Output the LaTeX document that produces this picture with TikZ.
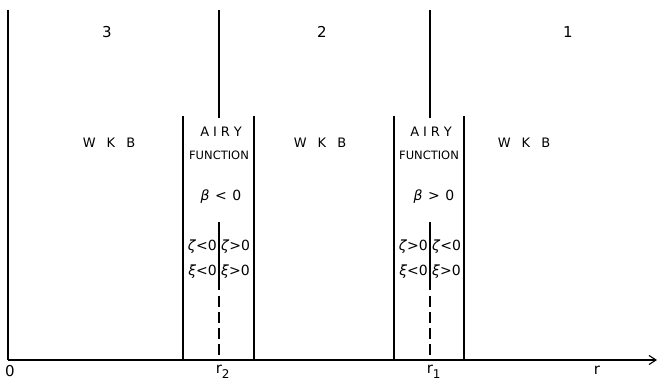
\documentclass[tikz,border=0pt]{standalone}
\usepackage{fontspec}
\setmainfont{DejaVu Sans}
\usetikzlibrary{arrows.meta}
\begin{document}
\begin{tikzpicture}[x=1pt,y=-1pt,
  ln/.style={line width=1.1pt,black},
  dsh/.style={line width=1.1pt,black,dash pattern=on 11pt off 5pt},
  big/.style={font=\fontsize{15}{15}\selectfont,inner sep=0pt},
  wkb/.style={font=\fontsize{13}{13}\selectfont,inner sep=0pt},
  airy/.style={font=\fontsize{13}{13}\selectfont,inner sep=0pt},
  func/.style={font=\fontsize{11.5}{11.5}\selectfont,inner sep=0pt},
  gr/.style={font=\fontsize{14}{14}\selectfont,inner sep=0pt},
  lab/.style={font=\fontsize{15}{15}\selectfont,inner sep=0pt},
  sub/.style={font=\fontsize{12}{12}\selectfont,inner sep=0pt}]
\useasboundingbox (0,0) rectangle (658,382);
% axis
\coordinate (o) at (8,360);
\coordinate (end) at (657,360);
\draw[ln,-{Straight Barb[length=7pt,width=9pt]}] (o) -- (end);
% main vertical lines
\draw[ln] (8,10) -- (o);
\draw[ln] (219,10) -- (219,118);
\draw[ln] (219,222) -- (219,290);
\draw[dsh] (219,296) -- (219,360);
\draw[ln] (430,10) -- (430,118);
\draw[ln] (430,222) -- (430,290);
\draw[dsh] (430,296) -- (430,360);
% box lines
\draw[ln] (183,116) -- (183,360);
\draw[ln] (254,116) -- (254,360);
\draw[ln] (394,116) -- (394,360);
\draw[ln] (464,116) -- (464,360);
% region numbers
\node[big] (n3) at (107,32) {3};
\node[big] (n2) at (322,32) {2};
\node[big] (n1) at (568,32) {1};
% WKB
\node[wkb] (w3) at (109,143) {W\hspace{0.85em}K\hspace{0.85em}B};
\node[wkb] (w2) at (320,143) {W\hspace{0.85em}K\hspace{0.85em}B};
\node[wkb] (w1) at (524,143) {W\hspace{0.85em}K\hspace{0.85em}B};
% AIRY boxes
\node[airy] (a2) at (221,132) {A\hspace{0.3em}I\hspace{0.3em}R\hspace{0.3em}Y};
\node[func] (f2) at (219,155) {FUNCTION};
\node[gr] (b2) at (221,197) {\textit{β}\hspace{0.4em}<\hspace{0.4em}0};
\node[gr,anchor=east] (z2l) at (217,247) {\textit{ζ}<0};
\node[gr,anchor=west] (z2r) at (221,247) {\textit{ζ}>0};
\node[gr,anchor=east] (x2l) at (217,272) {\textit{ξ}<0};
\node[gr,anchor=west] (x2r) at (221,272) {\textit{ξ}>0};
\node[airy] (a1) at (431,132) {A\hspace{0.3em}I\hspace{0.3em}R\hspace{0.3em}Y};
\node[func] (f1) at (429,155) {FUNCTION};
\node[gr] (b1) at (434,197) {\textit{β}\hspace{0.4em}>\hspace{0.4em}0};
\node[gr,anchor=east] (z1l) at (428,247) {\textit{ζ}>0};
\node[gr,anchor=west] (z1r) at (432,247) {\textit{ζ}<0};
\node[gr,anchor=east] (x1l) at (428,272) {\textit{ξ}<0};
\node[gr,anchor=west] (x1r) at (432,272) {\textit{ξ}>0};
% axis labels
\node[lab] (l0) at (10,371) {0};
\node[lab] (lr2) at (219,369) {r};
\node[sub,anchor=west] (s2) at ([xshift=-0.5pt,yshift=-5pt]lr2.east) {2};
\node[lab] (lr1) at (430,369) {r};
\node[sub,anchor=west] (s1) at ([xshift=-0.5pt,yshift=-5pt]lr1.east) {1};
\node[lab] (lr) at (597,370) {r};
\end{tikzpicture}
\end{document}
